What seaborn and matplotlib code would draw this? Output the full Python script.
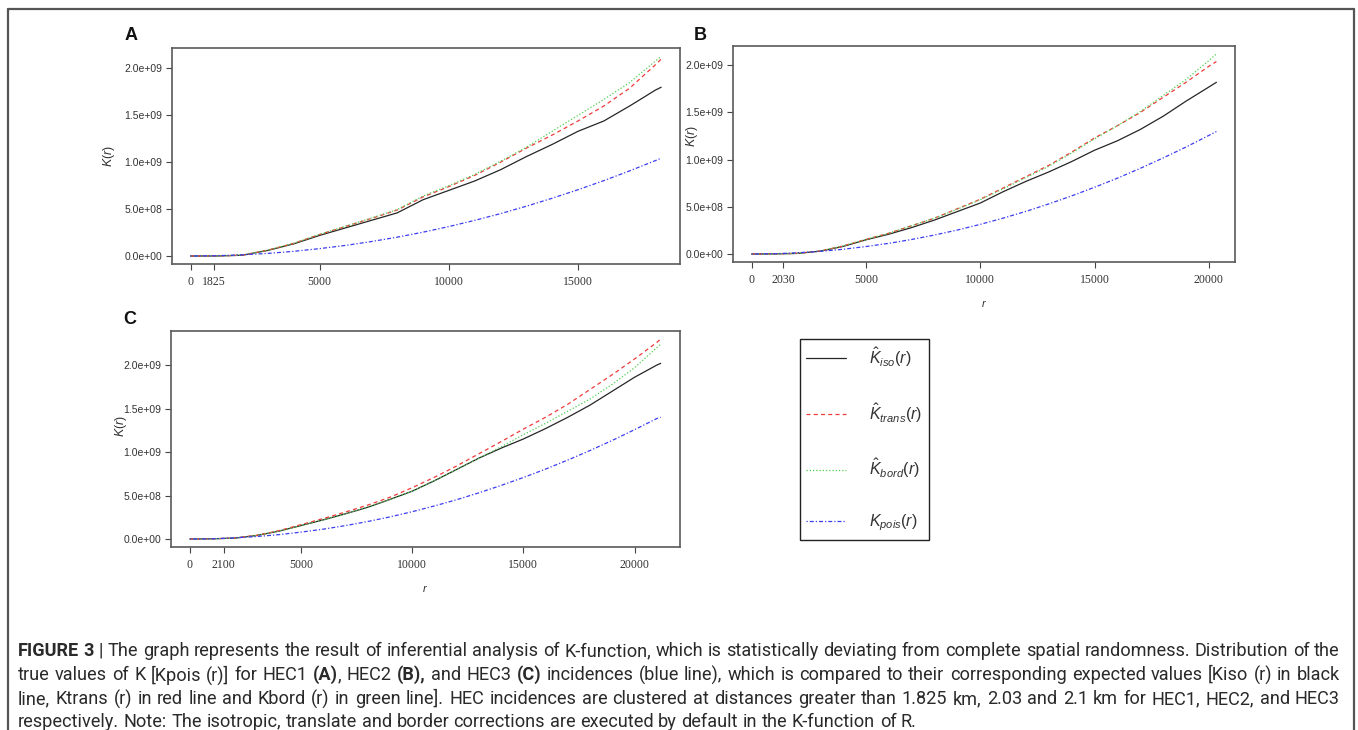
import matplotlib
matplotlib.use("Agg")
import matplotlib.pyplot as plt
import numpy as np
import pandas as pd
import seaborn as sns
from matplotlib import font_manager
from matplotlib.lines import Line2D

W, H = 1358, 730

# ---- data (K values in units of 1e9) ----
SERIES = ["iso", "trans", "bord", "pois"]

A_R = [0, 1000, 2000, 3000, 4000, 5000, 6000, 7000, 8000, 9000, 10000,
       11000, 12000, 13000, 14000, 15000, 16000, 17000, 18000, 18220]
A_ISO = [0, 0.000, 0.008, 0.060, 0.130, 0.220, 0.300, 0.380, 0.460, 0.600, 0.700,
         0.800, 0.920, 1.060, 1.190, 1.330, 1.440, 1.600, 1.770, 1.800]
A_TRANS = [0, 0.000, 0.009, 0.063, 0.135, 0.230, 0.315, 0.400, 0.490, 0.630, 0.740,
           0.860, 1.000, 1.150, 1.290, 1.440, 1.600, 1.790, 2.040, 2.100]
A_BORD = [0, 0.000, 0.009, 0.064, 0.137, 0.232, 0.318, 0.405, 0.495, 0.640, 0.750,
          0.870, 1.010, 1.160, 1.330, 1.500, 1.670, 1.850, 2.080, 2.130]
A_POIS = [0, 0.003, 0.013, 0.028, 0.050, 0.079, 0.113, 0.154, 0.201, 0.254, 0.314,
          0.380, 0.452, 0.531, 0.616, 0.707, 0.804, 0.908, 1.018, 1.043]

B_R = [0, 1000, 2000, 3000, 4000, 5000, 6000, 7000, 8000, 9000, 10000,
       11000, 12000, 13000, 14000, 15000, 16000, 17000, 18000, 19000, 20000, 20330]
B_ISO = [0, 0.001, 0.006, 0.030, 0.080, 0.150, 0.210, 0.280, 0.360, 0.450, 0.540,
         0.660, 0.770, 0.870, 0.980, 1.100, 1.200, 1.320, 1.460, 1.620, 1.770, 1.820]
B_TRANS = [0, 0.001, 0.007, 0.032, 0.085, 0.155, 0.220, 0.300, 0.380, 0.480, 0.580,
           0.700, 0.820, 0.940, 1.080, 1.230, 1.360, 1.500, 1.660, 1.820, 1.990, 2.040]
B_BORD = [0, 0.001, 0.007, 0.032, 0.085, 0.155, 0.220, 0.300, 0.380, 0.475, 0.575,
          0.690, 0.810, 0.930, 1.070, 1.220, 1.360, 1.510, 1.680, 1.850, 2.050, 2.120]
B_POIS = [0, 0.003, 0.013, 0.028, 0.050, 0.079, 0.113, 0.154, 0.201, 0.254, 0.314,
          0.380, 0.452, 0.531, 0.616, 0.707, 0.804, 0.908, 1.018, 1.134, 1.257, 1.298]

C_R = [0, 1000, 2000, 3000, 4000, 5000, 6000, 7000, 8000, 9000, 10000, 11000,
       12000, 13000, 14000, 15000, 16000, 17000, 18000, 19000, 20000, 21000, 21175]
C_ISO = [0, 0.002, 0.010, 0.040, 0.090, 0.155, 0.220, 0.290, 0.365, 0.455, 0.550, 0.670,
         0.800, 0.930, 1.045, 1.150, 1.270, 1.400, 1.540, 1.700, 1.860, 2.000, 2.020]
C_TRANS = [0, 0.002, 0.011, 0.042, 0.095, 0.165, 0.235, 0.310, 0.390, 0.480, 0.590, 0.710,
           0.840, 0.980, 1.120, 1.264, 1.400, 1.550, 1.720, 1.890, 2.070, 2.260, 2.300]
C_BORD = [0, 0.002, 0.010, 0.040, 0.090, 0.155, 0.220, 0.290, 0.365, 0.455, 0.550, 0.670,
          0.800, 0.930, 1.060, 1.200, 1.330, 1.470, 1.610, 1.780, 1.970, 2.200, 2.240]
C_POIS = [0, 0.003, 0.013, 0.028, 0.050, 0.079, 0.113, 0.154, 0.201, 0.254, 0.314, 0.380,
          0.452, 0.531, 0.616, 0.707, 0.804, 0.908, 1.018, 1.134, 1.257, 1.385, 1.400]

# x tick positions as drawn in the figure, with their printed labels
A_TICKS = [0, 916, 5000, 10000, 15000]
A_TICKLABELS = ["0", "1825", "5000", "10000", "15000"]
B_TICKS = [0, 1380, 5000, 10000, 15000, 20000]
B_TICKLABELS = ["0", "2030", "5000", "10000", "15000", "20000"]
C_TICKS = [0, 1516, 5000, 10000, 15000, 20000]
C_TICKLABELS = ["0", "2100", "5000", "10000", "15000", "20000"]
Y_TICKS = [0.0, 0.5, 1.0, 1.5, 2.0]

LEGEND_LABELS = [r"$\hat{K}_{iso}(r)$", r"$\hat{K}_{trans}(r)$",
                 r"$\hat{K}_{bord}(r)$", r"$K_{pois}(r)$"]

# caption lines as printed; **...** marks bold runs
CAPTION = [
    "**FIGURE 3** | The graph represents the result of inferential analysis of K-function, which is "
    "statistically deviating from complete spatial randomness. Distribution of the",
    "true values of K [Kpois (r)] for HEC1 **(A)**, HEC2 **(B),** and HEC3 **(C)** incidences (blue line), "
    "which is compared to their corresponding expected values [Kiso (r) in black",
    "line, Ktrans (r) in red line and Kbord (r) in green line]. HEC incidences are clustered at distances "
    "greater than 1.825 km, 2.03 and 2.1 km for HEC1, HEC2, and HEC3",
    "respectively. Note: The isotropic, translate and border corrections are executed by default "
    "in the K-function of R.",
]

PALETTE = {"iso": "#262626", "trans": "#ee3b3b", "bord": "#4fcf4f", "pois": "#3d3df0"}
DASHES = {"iso": "", "trans": (3.2, 2.6), "bord": (1.0, 1.6), "pois": (1.0, 1.6, 3.2, 1.6)}

sns.set_theme(style="ticks")
avail = {f.name for f in font_manager.fontManager.ttflist}
SANS = "Liberation Sans"
CAP_FONT = "Roboto" if "Roboto" in avail else SANS
plt.rcParams["font.family"] = [SANS, "DejaVu Sans"]
plt.rcParams["mathtext.fontset"] = "custom"
plt.rcParams["mathtext.rm"] = SANS
plt.rcParams["mathtext.it"] = SANS + ":italic"

fig = plt.figure(figsize=(W / 100, H / 100), dpi=100)


def px_axes(x0, y0, x1, y1):
    return fig.add_axes([x0 / W, 1 - y1 / H, (x1 - x0) / W, (y1 - y0) / H])


def draw_panel(ax, r, iso, trans, bord, pois, ticks, ticklabels, xlabel, ylab_xy):
    df = pd.DataFrame({
        "r": r * 4,
        "K": [v * 1e9 for v in iso + trans + bord + pois],
        "series": [s for s in SERIES for _ in r],
    })
    sns.lineplot(data=df, x="r", y="K", hue="series", style="series",
                 hue_order=SERIES, style_order=SERIES, palette=PALETTE,
                 dashes=DASHES, linewidth=0.9, estimator=None, sort=False,
                 legend=False, ax=ax)
    # R-style 4% padding on both axes
    xr = max(r) - min(r)
    ymax = df["K"].max()
    ax.set_xlim(min(r) - 0.04 * xr, max(r) + 0.04 * xr)
    ax.set_ylim(-0.04 * ymax, 1.04 * ymax)
    ax.set_xticks(ticks)
    ax.set_xticklabels(ticklabels, fontfamily="Liberation Serif", fontsize=8.5)
    ax.set_yticks([v * 1e9 for v in Y_TICKS])
    ax.set_yticklabels([f"{v * 1e9:.1e}" for v in Y_TICKS], fontsize=7.5)
    ax.tick_params(axis="both", direction="out", length=4.5, width=0.8,
                   color="#444444", labelcolor="#333333")
    ax.tick_params(axis="x", pad=4)
    ax.tick_params(axis="y", pad=2.5)
    for sp in ax.spines.values():
        sp.set_visible(True)
        sp.set_color("#5a5a5a")
        sp.set_linewidth(1.2)
    ax.set_ylabel(r"$K(r)$", fontsize=9, color="#333333")
    ax.yaxis.set_label_coords(*ylab_xy)
    if xlabel:
        ax.set_xlabel(r"$r$", fontsize=8, color="#333333")
        ax.xaxis.set_label_coords(0.5, -36 / 216)
    else:
        ax.set_xlabel("")


axA = px_axes(171.7, 48.3, 680, 264)
axB = px_axes(733, 46, 1235, 262)
axC = px_axes(171, 331, 679.5, 547)

draw_panel(axA, A_R, A_ISO, A_TRANS, A_BORD, A_POIS, A_TICKS, A_TICKLABELS, False, (-0.108, 0.5))
draw_panel(axB, B_R, B_ISO, B_TRANS, B_BORD, B_POIS, B_TICKS, B_TICKLABELS, True, (-0.066, 0.585))
draw_panel(axC, C_R, C_ISO, C_TRANS, C_BORD, C_POIS, C_TICKS, C_TICKLABELS, True, (-0.083, 0.56))

for letter, (x, y) in zip("ABC", [(131, 35), (700, 35), (130, 320)]):
    fig.text(x / W, 1 - y / H, letter, fontsize=13, fontweight="bold",
             ha="center", va="center", color="#111111")

handles = axC.get_lines()[:4]
leg = fig.legend(handles, LEGEND_LABELS, loc="upper left",
                 bbox_to_anchor=(800 / W, 1 - 339 / H), bbox_transform=fig.transFigure,
                 borderaxespad=0, frameon=True, fancybox=False, framealpha=1,
                 edgecolor="#222222", fontsize=11.5, borderpad=0.4,
                 labelspacing=2.02, handlelength=2.5, handletextpad=1.45)
leg.get_frame().set_linewidth(1.0)
for t in leg.get_texts():
    t.set_color("#333333")

# outer frame
frame_kw = dict(color="#555555", linewidth=1.6, transform=fig.transFigure)
fig.add_artist(Line2D([8 / W, 8 / W], [0, 1 - 9 / H], **frame_kw))
fig.add_artist(Line2D([8 / W, 1354 / W], [1 - 9 / H, 1 - 9 / H], **frame_kw))
fig.add_artist(Line2D([1354 / W, 1354 / W], [0, 1 - 9 / H], **frame_kw))


# caption: split into words with bold runs, then justify each line except the last
def parse_words(line):
    words, bold = [], False
    for word in line.split(" "):
        parts = []
        for i, piece in enumerate(word.split("**")):
            if i > 0:
                bold = not bold
            if piece:
                parts.append((piece, "bold" if bold else "normal"))
        words.append(parts)
    return words


renderer = fig.canvas.get_renderer()


def text_width(s, size, weight):
    t = fig.text(0, 0, s, fontsize=size, fontweight=weight, family=CAP_FONT)
    w = t.get_window_extent(renderer).width
    t.remove()
    return w


X0, X1 = 18, 1340
parsed = [parse_words(line) for line in CAPTION]
space_w = text_width("a a", 10, "normal") - text_width("aa", 10, "normal")
natural = []
for words in parsed:
    w = sum(text_width(p, 10, wt) for parts in words for p, wt in parts)
    natural.append(w + space_w * (len(words) - 1))
cap_size = 10 * (X1 - X0) / max(natural)

line_y = [651, 675, 699, 722]
for li, (words, y) in enumerate(zip(parsed, line_y)):
    widths = [[text_width(p, cap_size, wt) for p, wt in parts] for parts in words]
    total = sum(sum(ws) for ws in widths)
    if li < len(parsed) - 1:
        gap = (X1 - X0 - total) / (len(words) - 1)
    else:
        gap = space_w * cap_size / 10
    x = X0
    for parts, ws in zip(words, widths):
        for (p, wt), w in zip(parts, ws):
            fig.text(x / W, 1 - y / H, p, fontsize=cap_size, fontweight=wt,
                     family=CAP_FONT, va="center", ha="left", color="#2a2a2a")
            x += w
        x += gap

fig.savefig("out.png", dpi=100)
